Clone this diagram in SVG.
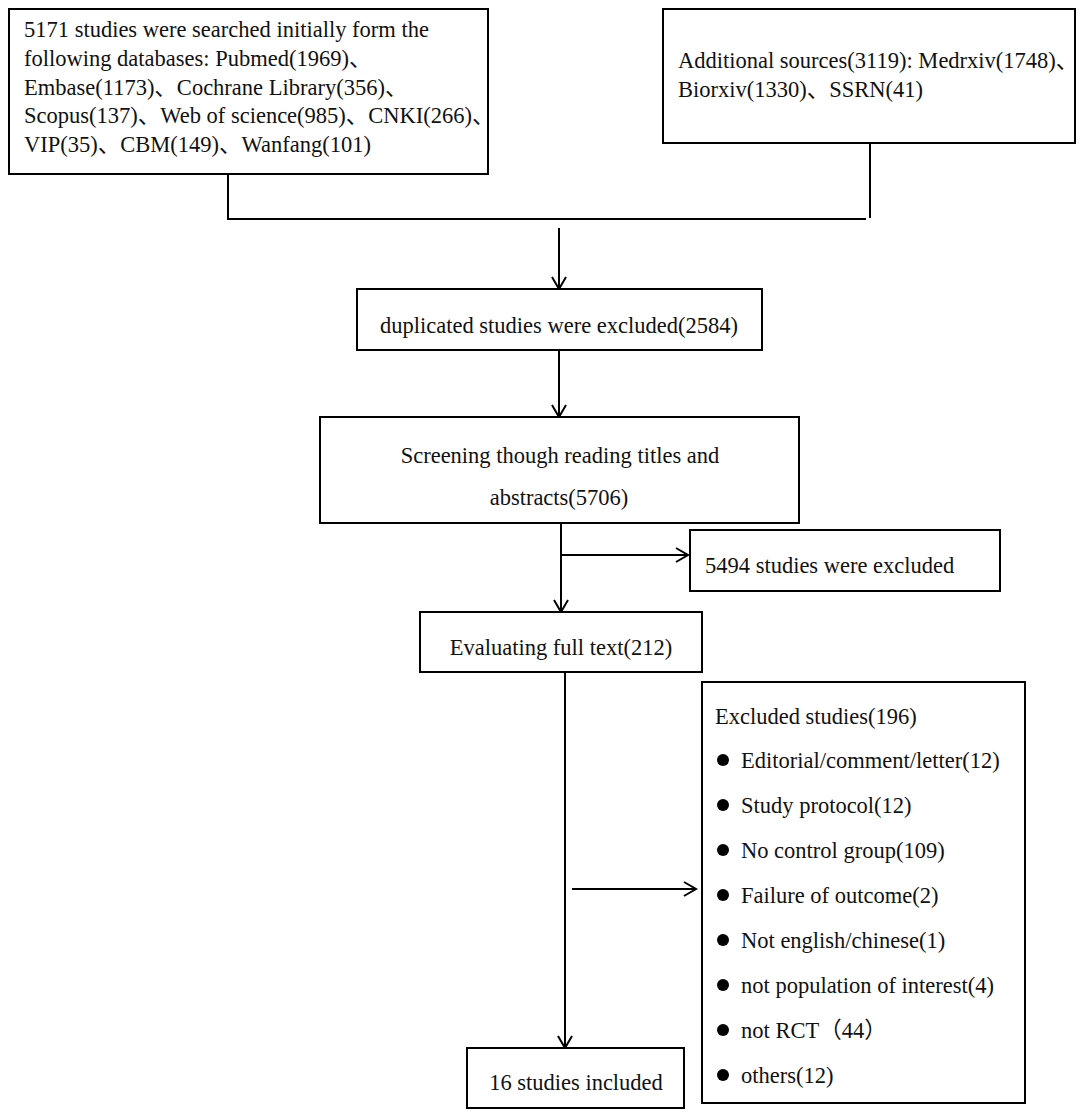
<svg xmlns="http://www.w3.org/2000/svg" width="1084" height="1118" viewBox="0 0 1084 1118">
<defs>
<style>
.box{fill:#fff;stroke:#000;stroke-width:2}
.t{font-family:"Liberation Serif","Noto Sans CJK SC",serif;font-size:22.5px;fill:#111}
.c{text-anchor:middle}
.ln{fill:none;stroke:#000;stroke-width:2}
</style>
<marker id="arr" markerWidth="16" markerHeight="16" refX="13" refY="8" orient="auto" markerUnits="userSpaceOnUse">
<path d="M1,1 L13,8 L1,15" fill="none" stroke="#000" stroke-width="2"/>
</marker>
</defs>
<rect width="1084" height="1118" fill="#fff"/>
<g id="connectors">
<path class="ln" d="M228,174 V219"/>
<path class="ln" d="M227,219 H866"/>
<path class="ln" d="M870,143 V218"/>
<path class="ln" d="M559,228 V289" marker-end="url(#arr)"/>
<path class="ln" d="M559,350 V417" marker-end="url(#arr)"/>
<path class="ln" d="M561,523 V612" marker-end="url(#arr)"/>
<path class="ln" d="M561,555 H688" marker-end="url(#arr)"/>
<path class="ln" d="M565,672 V1048" marker-end="url(#arr)"/>
<path class="ln" d="M572,889 H696" marker-end="url(#arr)"/>
</g>
<g id="databases">
<rect class="box" x="9" y="9" width="479" height="165"/>
<text class="t" x="24" y="37">5171 studies were searched initially form the</text>
<text class="t" x="24" y="66">following databases: Pubmed(1969)、</text>
<text class="t" x="24" y="95">Embase(1173)、Cochrane Library(356)、</text>
<text class="t" x="24" y="123">Scopus(137)、Web of science(985)、CNKI(266)、</text>
<text class="t" x="24" y="152">VIP(35)、CBM(149)、Wanfang(101)</text>
</g>
<g id="additional">
<rect class="box" x="663" y="9" width="412" height="134"/>
<text class="t" x="678" y="68">Additional sources(3119): Medrxiv(1748)、</text>
<text class="t" x="678" y="97">Biorxiv(1330)、SSRN(41)</text>
</g>
<g id="duplicated">
<rect class="box" x="357" y="289" width="405" height="61"/>
<text class="t c" x="559" y="333">duplicated studies were excluded(2584)</text>
</g>
<g id="screening">
<rect class="box" x="320" y="417" width="479" height="106"/>
<text class="t c" x="560" y="463">Screening though reading titles and</text>
<text class="t c" x="559" y="505">abstracts(5706)</text>
</g>
<g id="excluded5494">
<rect class="box" x="690" y="530" width="310" height="61"/>
<text class="t" x="705" y="573">5494 studies were excluded</text>
</g>
<g id="evaluating">
<rect class="box" x="420" y="612" width="282" height="60"/>
<text class="t c" x="561" y="655">Evaluating full text(212)</text>
</g>
<g id="excluded196">
<rect class="box" x="702" y="682" width="323" height="421"/>
<text class="t" x="715" y="724">Excluded studies(196)</text>
<g fill="#000">
<circle cx="723" cy="760" r="6"/>
<circle cx="723" cy="805" r="6"/>
<circle cx="723" cy="850" r="6"/>
<circle cx="723" cy="895" r="6"/>
<circle cx="723" cy="940" r="6"/>
<circle cx="723" cy="985" r="6"/>
<circle cx="723" cy="1030" r="6"/>
<circle cx="723" cy="1075" r="6"/>
</g>
<text class="t" x="741" y="768">Editorial/comment/letter(12)</text>
<text class="t" x="741" y="813">Study protocol(12)</text>
<text class="t" x="741" y="858">No control group(109)</text>
<text class="t" x="741" y="903">Failure of outcome(2)</text>
<text class="t" x="741" y="948">Not english/chinese(1)</text>
<text class="t" x="741" y="993">not population of interest(4)</text>
<text class="t" x="741" y="1038">not RCT（44）</text>
<text class="t" x="741" y="1083">others(12)</text>
</g>
<g id="included">
<rect class="box" x="467" y="1048" width="217" height="60"/>
<text class="t c" x="576" y="1090">16 studies included</text>
</g>
</svg>
